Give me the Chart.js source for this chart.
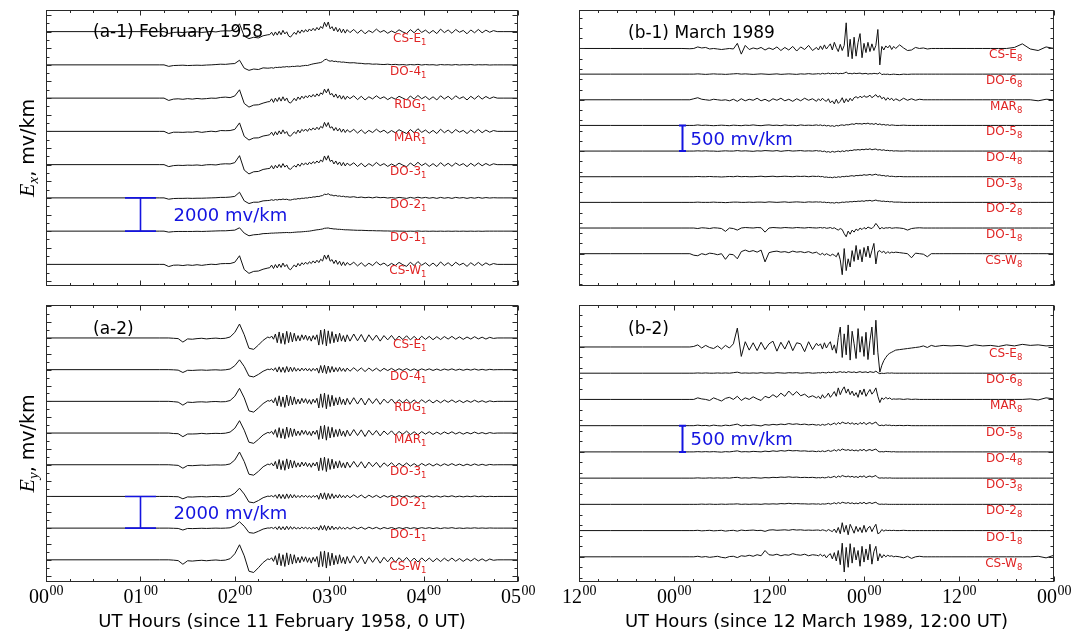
<!DOCTYPE html>
<html><head><meta charset="utf-8">
<script src="https://cdn.jsdelivr.net/npm/chart.js@4.4.1/dist/chart.umd.min.js"></script>
<style>
html,body{margin:0;padding:0;background:#fff;}
#wrap{position:relative;width:1088px;height:633px;overflow:hidden;background:#fff;}
canvas{position:absolute;left:0;top:0;}
</style></head><body>
<div id="wrap">
<canvas id="c1" width="1088" height="633"></canvas>
<canvas id="c2" width="1088" height="633"></canvas>
<canvas id="c3" width="1088" height="633"></canvas>
<canvas id="c4" width="1088" height="633"></canvas>
</div>
<script>
// ---------- time axes (hours) ----------
const timeA = [0,1.2,
1.25,1.3,1.35,1.4,1.45,1.5,1.55,1.6,1.65,1.7,1.75,1.8,1.85,1.9,1.95,2,2.05,2.1,2.15,2.2,2.25,2.3,2.35,
2.37,2.39,2.41,2.43,2.45,2.47,2.49,2.51,2.53,2.55,2.57,2.59,2.61,2.63,2.65,2.67,2.69,2.71,2.73,2.75,2.77,2.79,2.81,2.83,2.85,2.87,2.89,2.91,2.93,2.95,2.97,2.99,3.01,3.03,3.05,3.07,3.09,3.11,3.13,3.15,3.17,3.19,
3.22,3.26,3.3,3.34,3.38,3.42,3.46,3.5,3.54,3.58,3.62,3.66,3.7,3.74,3.78,3.82,3.86,3.9,3.94,3.98,4.02,4.06,4.1,4.14,4.18,4.22,4.26,4.3,4.34,4.38,4.42,4.46,4.5,4.54,4.58,4.62,4.66,4.7,4.74,4.78,
4.85,5];
const timeB = [0,4,8,12,13,14,
14.5,15,15.5,16,16.5,17,17.5,18,18.5,19,19.5,20,20.5,21,21.5,22,22.5,23,23.5,24,24.5,25,25.5,26,26.5,27,27.5,28,28.5,29,29.5,30,
30.25,30.5,30.75,31,31.25,31.5,31.75,32,32.25,32.5,32.75,33,33.25,33.5,33.75,34,34.25,34.5,34.75,35,35.25,35.5,35.75,36,36.25,36.5,36.75,37,37.25,37.5,37.75,38,38.25,38.5,38.75,39,39.25,39.5,39.75,40,
40.5,41,41.5,42,42.5,43,43.5,44,44.5,45,45.5,46,
47,48,49,50,51,52,53,54,55,56,57,58,59,60];

const stationsA = ['CS-E','DO-4','RDG','MAR','DO-3','DO-2','DO-1','CS-W'];
const stationsB = ['CS-E','DO-6','MAR','DO-5','DO-4','DO-3','DO-2','DO-1','CS-W'];
const offsetsA = [0,-2000,-4000,-6000,-8000,-10000,-12000,-14000];
const offsetsB = [0,-500,-1000,-1500,-2000,-2500,-3000,-3500,-4000];
const ticksA = ['00','01','02','03','04','05'];
const ticksB = ['12','00','12','00','12','00'];

// ---------- (a-1) Ex, February 1958, mV/km ----------
const ex1958_CSE = [0,0,
0,-110,-50,-30,-60,-20,-50,-10,-50,-20,10,-20,30,50,40,110,470,-280,-420,-340,-380,-250,-190,
-180,-40,-240,-20,-210,20,-190,80,-140,-10,-260,-330,-190,-40,-170,60,-100,100,-40,120,-20,160,40,200,60,250,100,310,190,560,300,580,170,300,40,260,-10,190,-70,150,-90,120,
-60,130,-100,100,-130,60,-60,150,-40,70,-100,40,-70,110,-20,-120,120,-70,170,-50,90,-100,70,-120,150,-60,100,-100,130,-40,70,-130,100,-70,130,-70,90,-40,60,0,
0,0];
const ex1958_DO4 = [0,0,
0,-90,-40,-30,-20,-40,-30,-20,-30,-10,0,20,40,30,60,80,280,-200,-330,-250,-280,-180,-200,
-190,-170,-200,-150,-160,-140,-150,-120,-130,-100,-120,-110,-90,-100,-80,-70,-90,-60,-50,-30,-40,0,30,60,80,100,120,140,200,300,340,260,220,250,200,220,180,190,160,170,150,140,
120,130,100,90,60,70,40,50,30,20,40,10,30,0,20,-10,20,0,30,-10,20,0,10,-20,20,0,10,-10,20,-10,10,0,20,-10,10,0,10,-10,0,0,
0,0];
const ex1958_RDG = [0,0,
0,-140,-60,-40,-70,-30,-60,-20,-50,-30,0,-10,40,60,30,130,500,-320,-540,-420,-400,-300,-220,
-210,-40,-260,0,-200,40,-180,80,-160,10,-240,-300,-170,-10,-160,70,-80,120,-20,140,20,180,60,220,80,260,120,320,220,540,320,560,200,280,60,250,0,180,-60,140,-80,110,
-30,140,-90,110,-110,80,-50,140,-30,80,-90,50,-60,110,0,-110,130,-60,160,-40,100,-90,80,-110,140,-50,110,-90,140,-30,80,-110,110,-60,140,-60,100,-30,70,0,
0,0];
const ex1958_MAR = [0,0,
0,-130,-50,-50,-60,-40,-50,-10,-60,-20,10,-20,50,40,50,120,510,-300,-520,-400,-390,-280,-230,
-200,-50,-250,-20,-210,30,-160,90,-130,-10,-250,-290,-160,-30,-140,80,-90,120,10,140,0,170,70,210,90,250,110,300,200,540,290,530,200,280,50,230,20,180,-50,140,-70,100,
-50,120,-100,90,-130,60,-70,130,-50,70,-110,50,-80,100,-20,-130,110,-80,160,-60,80,-110,60,-130,130,-80,80,-110,110,-50,60,-130,80,-80,110,-80,80,-50,50,0,
0,0];
const ex1958_DO3 = [0,0,
0,-120,-60,-40,-50,-30,-40,-20,-50,-10,0,-20,30,50,40,120,540,-330,-560,-430,-410,-290,-240,
-230,-60,-260,-40,-200,10,-180,60,-150,-30,-240,-280,-170,-50,-150,40,-100,90,-20,110,-20,140,40,180,70,220,100,280,170,520,270,540,190,270,40,220,0,160,-70,130,-80,90,
-50,110,-110,80,-130,60,-80,130,-60,60,-110,40,-80,90,-30,-130,100,-80,140,-60,80,-110,60,-120,120,-80,80,-100,100,-50,60,-120,80,-80,100,-70,70,-50,50,0,
0,0];
const ex1958_DO2 = [0,0,
0,-80,-40,-30,-30,-20,-30,-20,-20,-10,0,10,30,30,50,90,340,-180,-340,-260,-260,-180,-160,
-150,-110,-150,-100,-130,-90,-110,-70,-100,-80,-120,-130,-100,-70,-80,-40,-60,-20,-30,0,-10,30,20,60,50,90,80,120,140,220,200,250,170,170,120,150,100,120,80,100,60,70,
40,70,20,50,10,40,0,50,10,30,-10,20,-20,30,0,-30,30,-20,40,-10,30,-20,20,-30,30,-20,20,-30,30,-10,20,-30,20,-20,30,-20,20,-10,10,0,
0,0];
const ex1958_DO1 = [0,0,
0,-60,-30,-20,-20,-20,-20,-10,-20,-10,0,10,20,20,40,60,200,-120,-280,-220,-200,-150,-140,
-130,-120,-120,-110,-110,-100,-100,-90,-90,-80,-90,-90,-80,-70,-60,-50,-50,-40,-30,-20,-10,0,20,40,60,80,90,110,130,170,180,190,160,150,130,130,110,110,100,90,80,80,
70,60,50,50,40,30,30,20,20,10,10,0,10,0,0,-10,0,-10,10,-10,0,-10,0,-10,0,-10,0,-10,0,-10,0,-10,0,-10,0,-10,0,0,0,0,
0,0];
const ex1958_CSW = [0,0,
0,-130,-50,-40,-70,-30,-60,-20,-60,-20,10,-10,40,50,50,130,520,-310,-540,-420,-400,-290,-220,
-200,-40,-250,-10,-210,20,-180,80,-140,-10,-250,-320,-180,-30,-160,60,-90,100,-10,130,10,160,50,210,80,250,110,310,200,560,310,570,190,290,50,260,0,190,-70,150,-70,110,
-40,130,-90,100,-120,70,-70,150,-40,80,-100,60,-70,120,-20,-120,130,-70,170,-50,100,-100,80,-120,150,-70,100,-100,130,-40,70,-120,100,-70,120,-70,90,-40,50,0,
0,0];

// ---------- (a-2) Ey, February 1958, mV/km ----------
const ey1958_CSE = [0,0,
0,0,-20,-40,-260,-60,-80,-40,-20,-60,-30,-10,-40,-20,60,350,880,200,-650,-720,-450,-150,60,
0,120,-80,250,-300,380,-350,300,-400,420,-300,350,-250,300,-200,150,-180,200,-100,180,-150,120,-200,150,-100,200,-450,500,-400,550,-500,450,-350,400,-300,250,-250,300,-200,150,-250,200,
-200,250,-180,220,-250,200,-150,180,-200,150,-120,160,-150,120,-100,140,-120,100,-130,110,-90,100,-110,80,-100,90,-70,100,-80,70,-90,60,-70,80,-60,50,-70,40,-30,0,
0,0];
const ey1958_DO4 = [0,0,
0,0,-10,-30,-180,-40,-50,-30,-20,-40,-20,-10,-30,-10,40,250,620,200,-400,-460,-300,-100,30,
0,60,-50,120,-150,180,-160,150,-180,200,-150,160,-120,140,-100,80,-90,100,-60,90,-80,70,-100,80,-60,100,-220,260,-200,280,-250,230,-180,200,-150,130,-120,150,-100,80,-120,100,
-100,120,-90,110,-120,100,-80,90,-100,80,-60,80,-70,60,-50,70,-60,50,-60,50,-40,50,-50,40,-50,40,-30,50,-40,30,-40,30,-30,40,-30,20,-30,20,-10,0,
0,0];
const ey1958_RDG = [0,0,
0,0,-20,-50,-240,-50,-70,-40,-30,-50,-20,-10,-30,-20,50,320,820,220,-600,-680,-420,-140,50,
10,100,-100,230,-280,350,-330,280,-380,400,-280,330,-230,280,-180,140,-160,190,-90,170,-140,110,-180,140,-90,190,-420,470,-380,520,-470,420,-330,380,-280,230,-230,280,-190,140,-230,190,
-190,230,-170,210,-230,190,-140,170,-190,140,-110,150,-140,110,-90,130,-110,90,-120,100,-80,90,-100,70,-90,80,-60,90,-70,60,-80,50,-60,70,-50,40,-60,30,-20,0,
0,0];
const ey1958_MAR = [0,0,
0,0,-30,-40,-230,-60,-60,-50,-20,-50,-30,-20,-30,-10,60,300,780,180,-580,-650,-400,-120,40,
0,110,-90,220,-270,340,-320,270,-360,380,-270,310,-220,260,-170,130,-150,180,-80,160,-130,100,-170,130,-80,180,-400,450,-360,490,-450,400,-310,360,-260,220,-220,260,-180,130,-220,180,
-180,220,-160,200,-220,180,-130,160,-180,130,-100,140,-130,100,-80,120,-100,80,-110,90,-70,80,-90,60,-80,70,-50,80,-60,50,-70,40,-50,60,-40,30,-50,30,-20,0,
0,0];
const ey1958_DO3 = [0,0,
0,0,-20,-40,-220,-50,-60,-40,-20,-40,-20,-10,-20,-10,50,300,800,200,-600,-660,-420,-130,40,
0,100,-80,210,-260,330,-310,260,-350,370,-260,300,-210,250,-160,120,-140,170,-80,150,-120,100,-160,120,-80,170,-380,430,-350,480,-430,390,-300,350,-250,210,-210,250,-170,120,-210,170,
-170,210,-150,190,-210,170,-120,150,-170,120,-90,130,-120,90,-80,110,-90,70,-100,80,-60,70,-80,60,-70,60,-50,70,-50,40,-60,40,-50,50,-40,30,-40,20,-10,0,
0,0];
const ey1958_DO2 = [0,0,
0,0,-10,-20,-150,-30,-40,-20,-10,-30,-10,0,-20,0,30,200,520,150,-350,-400,-260,-80,20,
0,50,-40,100,-120,150,-130,120,-150,160,-120,130,-100,110,-80,60,-70,80,-50,70,-60,50,-80,60,-50,80,-180,210,-160,230,-200,190,-150,170,-120,100,-100,120,-80,60,-90,80,
-80,100,-70,90,-100,80,-60,70,-80,60,-50,60,-50,50,-40,50,-40,40,-50,40,-30,40,-40,30,-40,30,-20,40,-30,20,-30,20,-20,30,-20,20,-20,10,-10,0,
0,0];
const ey1958_DO1 = [0,0,
0,0,-10,-20,-120,-20,-30,-20,-10,-20,-10,0,-10,0,20,150,400,120,-280,-320,-200,-60,10,
0,40,-30,70,-90,110,-100,90,-110,120,-90,100,-70,80,-60,40,-50,60,-30,50,-40,40,-60,40,-30,60,-130,160,-120,170,-150,140,-110,130,-90,70,-80,90,-60,40,-70,60,
-60,70,-50,60,-70,60,-40,50,-60,40,-30,40,-40,30,-30,40,-30,30,-30,30,-20,30,-30,20,-30,20,-10,30,-20,10,-20,10,-10,20,-10,10,-10,10,0,0,
0,0];
const ey1958_CSW = [0,0,
0,0,-20,-50,-280,-60,-80,-50,-30,-60,-30,-10,-40,-20,70,380,950,250,-720,-800,-500,-170,60,
10,130,-100,260,-320,400,-370,320,-420,440,-320,370,-270,320,-210,160,-190,210,-110,190,-160,130,-210,160,-110,210,-460,520,-420,560,-520,470,-370,420,-320,270,-270,320,-210,160,-260,210,
-210,260,-190,230,-260,210,-160,190,-210,160,-130,170,-160,130,-110,150,-130,110,-140,120,-100,110,-120,90,-110,100,-80,110,-90,80,-100,70,-80,90,-70,60,-80,50,-30,0,
0,0];

// ---------- (b-1) Ex, March 1989, mV/km ----------
const ex1989_CSE = [0,0,0,0,0,-5,
0,30,10,20,-10,0,-10,-20,-10,0,-10,100,-110,60,-20,10,-10,20,-30,10,-20,30,-40,20,-30,40,-50,30,-20,60,-40,20,
-30,50,-20,70,-10,40,90,-30,120,20,-60,80,-40,60,500,-160,180,-200,220,-150,120,290,-180,100,-80,120,-60,90,-40,60,370,-320,40,-30,50,10,60,-20,40,0,
70,10,-40,-30,20,0,10,-10,0,0,0,0,
0,0,0,0,0,0,0,0,20,90,-10,-40,30,0];
const ex1989_DO6 = [0,0,0,0,0,0,
0,5,0,-5,0,5,0,0,-5,0,5,10,0,5,0,-5,0,5,0,-5,0,5,-5,0,5,0,-5,5,0,10,0,5,
10,0,15,5,10,20,5,15,10,20,5,15,10,20,40,10,15,5,20,10,15,20,5,10,15,0,10,5,15,10,5,30,-10,0,-5,0,-10,-5,0,-5,
-10,0,-5,0,0,0,0,0,0,0,0,0,
0,0,0,0,0,0,0,0,0,0,0,0,0,0];
const ex1989_MAR = [0,0,0,0,0,0,
20,40,10,0,-10,10,0,-10,0,-20,10,-30,20,-20,10,-10,30,-20,10,-30,20,-10,30,-20,10,-30,20,-20,30,-10,20,-30,
20,-20,30,-10,-30,20,-60,-20,-80,10,-70,-30,40,-60,20,-40,30,-20,40,60,30,70,40,80,50,60,90,40,70,100,50,80,20,50,-10,40,0,30,-20,20,
-20,30,-10,20,-10,10,0,0,0,0,0,0,
0,0,0,0,0,0,0,0,0,0,0,-20,10,0];
const ex1989_DO5 = [0,0,0,0,0,0,
0,10,0,5,0,-5,0,5,0,-5,5,0,-5,5,0,10,0,-5,5,10,0,5,-5,10,0,5,-5,10,0,5,0,10,
0,10,-5,5,-10,0,-15,-5,-20,0,-10,5,10,0,15,10,20,30,20,40,30,35,25,40,30,45,25,35,20,40,15,30,10,20,5,15,0,10,5,0,
0,5,0,0,0,0,0,0,0,0,0,0,
0,0,0,0,0,0,0,0,0,0,0,0,0,0];
const ex1989_DO4 = [0,0,0,0,0,0,
0,5,0,5,0,0,-5,0,5,0,0,10,0,5,0,-5,5,0,10,5,0,10,-5,5,10,0,5,10,0,5,0,10,
0,5,-10,0,-20,-10,-25,-5,-20,-10,0,-15,5,-10,10,0,15,10,25,20,30,20,35,25,40,30,45,25,35,40,20,30,15,25,10,15,5,10,0,5,
0,0,5,0,0,0,0,0,0,0,0,0,
0,0,0,0,0,0,0,0,0,0,0,0,0,0];
const ex1989_DO3 = [0,0,0,0,0,0,
0,5,0,0,5,0,0,-5,0,5,0,10,0,5,0,0,5,10,0,5,10,0,5,10,5,0,10,5,10,0,10,5,
10,0,5,-10,-5,-15,-10,-20,-5,-15,0,-10,5,0,10,5,15,20,10,25,20,30,25,40,30,35,45,30,40,50,30,35,20,25,10,20,5,10,5,0,
5,0,0,0,0,0,0,0,0,0,0,0,
0,0,0,0,0,0,0,0,0,0,0,0,0,0];
const ex1989_DO2 = [0,0,0,0,0,0,
0,5,0,0,0,5,0,0,-5,0,5,5,0,0,5,0,5,5,0,10,5,0,5,10,0,5,10,5,0,10,5,10,
5,10,0,5,-5,0,-10,-5,-15,0,-10,-5,5,0,10,5,15,10,20,15,25,20,30,20,35,30,40,25,35,45,30,30,20,25,15,20,10,15,5,5,
5,0,0,0,0,0,0,0,0,0,0,0,
0,0,0,0,0,0,0,0,0,0,0,0,0,0];
const ex1989_DO1 = [0,0,0,0,0,0,
0,-10,5,0,-10,5,0,-10,-65,0,-10,-40,0,10,5,0,10,5,-80,0,10,5,0,10,5,0,10,5,0,10,5,0,
5,10,0,10,-5,0,10,-10,5,-20,-40,-10,-30,-110,-170,-60,-120,-40,-80,-20,-50,0,-30,10,-20,20,0,-10,30,90,40,-20,10,-10,5,0,10,-5,0,5,
0,-10,-40,-10,0,5,0,0,0,0,0,0,
0,0,0,0,0,0,0,0,0,0,0,0,0,0];
const ex1989_CSW = [0,0,0,0,0,0,
-30,-40,0,-20,10,0,-20,0,-110,-10,-20,-100,40,70,40,60,30,70,-160,20,40,50,30,40,20,50,30,40,20,40,10,30,
0,-20,10,-30,0,-20,-40,-10,-30,-60,20,-120,-410,100,-330,-100,-260,60,-150,160,-120,80,-160,120,-60,150,-80,60,200,-200,40,60,20,50,0,40,10,30,20,30,
20,10,0,-80,10,0,-10,-60,0,0,0,0,
0,0,0,0,0,0,0,0,0,0,0,0,0,0];

// ---------- (b-2) Ey, March 1989, mV/km ----------
const ey1989_CSE = [0,0,0,0,0,0,
10,40,-20,30,-10,-30,20,-40,30,-20,60,360,-180,100,-60,80,-70,90,-50,60,110,-80,90,-40,120,-70,80,60,-90,100,-50,70,
20,60,-40,80,-20,50,100,-60,40,-120,180,380,-200,250,-150,420,-250,300,60,-220,350,-100,200,-180,280,-240,120,380,-150,510,-100,-480,-350,-260,-200,-150,-120,-100,-80,-60,
-50,-40,-30,-20,-10,0,20,-10,30,10,20,30,
20,30,10,40,20,30,10,40,20,50,30,40,20,30];
const ey1989_DO6 = [0,0,0,0,0,0,
0,5,0,5,0,0,5,0,5,0,10,20,0,5,0,5,0,10,0,5,0,10,5,0,10,5,10,0,5,10,0,5,
10,5,15,10,5,20,10,15,25,10,20,30,15,25,10,30,20,15,25,10,20,30,15,20,25,10,30,20,15,40,10,-10,0,-5,0,5,0,5,0,0,
0,0,0,0,0,0,0,0,0,0,0,0,
0,0,0,0,0,0,0,0,0,0,0,0,0,0];
const ey1989_MAR = [0,0,0,0,0,0,
0,30,10,0,-20,30,0,-30,20,40,0,60,-20,30,0,50,10,-20,60,30,90,40,120,60,160,80,150,70,100,40,70,30,
60,10,90,30,60,120,40,90,150,60,220,90,180,240,120,200,90,160,70,130,40,180,90,200,60,130,190,100,150,220,60,-60,30,0,40,10,30,0,10,5,
10,0,10,0,5,0,0,0,0,0,0,0,
0,0,0,0,0,0,0,0,0,0,10,-10,30,10];
const ey1989_DO5 = [0,0,0,0,0,0,
0,10,0,5,-5,10,0,-5,10,0,15,30,-5,10,0,15,5,-5,20,10,25,15,30,20,40,25,35,20,30,15,25,10,
20,5,25,10,20,40,15,30,50,20,60,30,70,50,40,60,30,55,25,45,20,60,30,65,20,45,60,30,50,70,20,0,10,0,15,5,10,0,5,0,
5,0,5,0,0,0,0,0,0,0,0,0,
0,0,0,0,0,0,0,0,0,0,0,0,0,0];
const ey1989_DO4 = [0,0,0,0,0,0,
0,5,0,5,0,5,0,-5,5,0,10,20,0,5,0,10,5,0,15,5,20,10,25,15,30,20,25,15,20,10,15,5,
15,5,20,5,15,30,10,20,40,15,45,25,55,40,30,45,25,40,20,35,15,45,25,50,15,35,45,25,40,55,15,0,5,0,10,5,5,0,5,0,
0,0,0,0,0,0,0,0,0,0,0,0,
0,0,0,0,0,0,0,0,0,0,0,0,0,0];
const ey1989_DO3 = [0,0,0,0,0,0,
0,5,0,0,5,0,5,0,5,0,10,15,0,5,0,10,5,0,10,5,15,10,20,15,25,15,20,10,15,10,15,5,
10,5,15,5,10,25,10,20,35,10,40,20,50,35,25,40,20,35,15,30,10,40,20,45,10,30,40,20,35,50,10,0,5,0,5,0,5,0,0,0,
0,0,0,0,0,0,0,0,0,0,0,0,
0,0,0,0,0,0,0,0,0,0,0,0,0,0];
const ey1989_DO2 = [0,0,0,0,0,0,
0,0,5,0,5,0,0,5,0,5,5,10,0,5,0,5,5,0,10,5,10,5,15,10,20,10,15,10,10,5,10,5,
10,0,10,5,10,20,5,15,30,10,35,15,40,30,20,35,15,30,10,25,10,35,15,40,10,25,35,15,30,40,10,0,5,0,5,0,0,0,0,0,
0,0,0,0,0,0,0,0,0,0,0,0,
0,0,0,0,0,0,0,0,0,0,0,0,0,0];
const ey1989_DO1 = [0,0,0,0,0,0,
0,5,-5,0,5,-5,0,5,-10,0,5,-10,10,0,5,10,0,5,-15,10,15,5,10,15,5,20,10,15,5,10,5,10,
10,0,15,5,-10,20,0,-20,30,-40,60,-60,150,-30,100,-80,120,40,-50,80,-20,60,-40,100,-30,50,80,-20,60,120,-60,-40,20,-10,10,0,5,0,5,0,
0,5,0,0,0,0,0,0,0,0,0,0,
0,0,0,0,0,0,0,0,0,0,0,0,0,0];
const ey1989_CSW = [0,0,0,0,0,0,
0,10,-5,5,-10,0,10,-10,-20,5,10,-15,20,10,30,10,40,20,120,40,30,50,20,40,30,60,40,30,50,20,40,30,
20,50,10,40,-20,30,60,-40,80,-80,120,-150,260,-290,180,-200,250,-120,180,-60,120,-180,200,-100,150,-60,240,-140,100,200,-80,60,-20,40,0,30,10,20,0,10,
0,-20,10,-30,0,10,0,0,0,0,0,0,
0,0,0,0,0,0,0,0,0,0,0,10,-20,30];

// ---------- panel definitions ----------
const RED = '#e02424', BLUE = '#1414e0', INK = '#111';
const panels = [
 {id:'c1', time:timeA, traces:[ex1958_CSE,ex1958_DO4,ex1958_RDG,ex1958_MAR,ex1958_DO3,ex1958_DO2,ex1958_DO1,ex1958_CSW],
  offsets:offsetsA, names:stationsA, sub:'1', area:{l:46,t:10,r:518,b:286}, x:[0,5], y:[-15300,1300],
  xMinor:0.25, xMajorEvery:4, yMinor:500, yMajor:1000, labelX:4.03,
  title:'(a-1) February 1958', titleDx:47, titleDy:27,
  bar:{x:1.0, from:offsetsA[5], to:offsetsA[6], text:'2000 mv/km', cap:15.5, dx:33, lw:1.6},
  ylab:'x', xlab:null},
 {id:'c2', time:timeB, traces:[ex1989_CSE,ex1989_DO6,ex1989_MAR,ex1989_DO5,ex1989_DO4,ex1989_DO3,ex1989_DO2,ex1989_DO1,ex1989_CSW],
  offsets:offsetsB, names:stationsB, sub:'8', area:{l:579,t:10,r:1054,b:286}, x:[0,60], y:[-4630,750],
  xMinor:2.4, xMajorEvery:5, yMinor:200, yMajor:1000, labelX:56,
  title:'(b-1) March 1989', titleDx:49, titleDy:28,
  bar:{x:13, from:offsetsB[3], to:offsetsB[4], text:'500 mv/km', cap:3.5, dx:8, lw:2},
  ylab:null, xlab:null},
 {id:'c3', time:timeA, traces:[ey1958_CSE,ey1958_DO4,ey1958_RDG,ey1958_MAR,ey1958_DO3,ey1958_DO2,ey1958_DO1,ey1958_CSW],
  offsets:offsetsA, names:stationsA, sub:'1', area:{l:46,t:305,r:518,b:582}, x:[0,5], y:[-15400,2080],
  xMinor:0.25, xMajorEvery:4, yMinor:500, yMajor:1000, labelX:4.03,
  title:'(a-2)', titleDx:47, titleDy:29,
  bar:{x:1.0, from:offsetsA[5], to:offsetsA[6], text:'2000 mv/km', cap:15.5, dx:33, lw:1.6},
  ylab:'y', xlab:'UT Hours (since 11 February 1958, 0 UT)', ticks:ticksA},
 {id:'c4', time:timeB, traces:[ey1989_CSE,ey1989_DO6,ey1989_MAR,ey1989_DO5,ey1989_DO4,ey1989_DO3,ey1989_DO2,ey1989_DO1,ey1989_CSW],
  offsets:offsetsB, names:stationsB, sub:'8', area:{l:579,t:305,r:1054,b:582}, x:[0,60], y:[-4480,800],
  xMinor:2.4, xMajorEvery:5, yMinor:200, yMajor:1000, labelX:56,
  title:'(b-2)', titleDx:49, titleDy:29,
  bar:{x:13, from:offsetsB[3], to:offsetsB[4], text:'500 mv/km', cap:3.5, dx:8, lw:2},
  ylab:null, xlab:'UT Hours (since 12 March 1989, 12:00 UT)', ticks:ticksB}
];

function subText(ctx, main, sub, x, y, align, f1, f2, dy){
  ctx.font=f1; const w1=ctx.measureText(main).width;
  ctx.font=f2; const w2=ctx.measureText(sub).width;
  const x0 = align==='right' ? x-w1-w2 : (align==='center' ? x-(w1+w2)/2 : x);
  ctx.textAlign='left'; ctx.textBaseline='alphabetic';
  ctx.font=f1; ctx.fillText(main,x0,y);
  ctx.font=f2; ctx.fillText(sub,x0+w1,y+dy);
}

function makePlugin(P){
  return {
    id:'panel_'+P.id,
    afterDatasetsDraw(chart){
      const ctx=chart.ctx, ca=chart.chartArea, xs=chart.scales.x, ys=chart.scales.y;
      ctx.save();
      const L=Math.round(ca.left)+0.5, R=Math.round(ca.right)-0.5, T=Math.round(ca.top)+0.5, B=Math.round(ca.bottom)-0.5;
      ctx.strokeStyle='#2a2a2a'; ctx.lineWidth=1;
      ctx.beginPath();
      const nx=Math.round((P.x[1]-P.x[0])/P.xMinor);
      for(let i=0;i<=nx;i++){
        const v=P.x[0]+i*P.xMinor;
        const px=Math.round(xs.getPixelForValue(v))+0.5;
        const len=(i%P.xMajorEvery===0)?5:2.5;
        ctx.moveTo(px,B); ctx.lineTo(px,B-len);
        ctx.moveTo(px,T); ctx.lineTo(px,T+len);
      }
      const k0=Math.ceil(P.y[0]/P.yMinor), k1=Math.floor(P.y[1]/P.yMinor);
      for(let k=k0;k<=k1;k++){
        const v=k*P.yMinor;
        const py=Math.round(ys.getPixelForValue(v))+0.5;
        const len=(Math.abs(v%P.yMajor)<1e-6)?5:3;
        ctx.moveTo(L,py); ctx.lineTo(L+len,py);
        ctx.moveTo(R,py); ctx.lineTo(R-len,py);
      }
      ctx.stroke();
      ctx.strokeRect(L,T,R-L,B-T);

      ctx.fillStyle=RED;
      const lx=xs.getPixelForValue(P.labelX);
      P.names.forEach((n,k)=>{
        const py=ys.getPixelForValue(P.offsets[k]);
        subText(ctx,n,P.sub,lx,py+10,'right','12px "DejaVu Sans"','8.5px "DejaVu Sans"',3);
      });

      ctx.fillStyle='#000'; ctx.font='17px "DejaVu Sans"'; ctx.textAlign='left'; ctx.textBaseline='alphabetic';
      ctx.fillText(P.title, ca.left+P.titleDx, ca.top+P.titleDy);

      const bx=Math.round(xs.getPixelForValue(P.bar.x))+0.5;
      const y1=ys.getPixelForValue(P.bar.from), y2=ys.getPixelForValue(P.bar.to);
      ctx.strokeStyle=BLUE; ctx.lineWidth=P.bar.lw;
      ctx.beginPath();
      ctx.moveTo(bx,y1); ctx.lineTo(bx,y2);
      ctx.moveTo(bx-P.bar.cap,y1); ctx.lineTo(bx+P.bar.cap,y1);
      ctx.moveTo(bx-P.bar.cap,y2); ctx.lineTo(bx+P.bar.cap,y2);
      ctx.stroke();
      ctx.fillStyle=BLUE; ctx.font='18px "DejaVu Sans"';
      ctx.fillText(P.bar.text, bx+P.bar.dx, (y1+y2)/2+6.5);

      if(P.ticks){
        ctx.fillStyle='#000';
        P.ticks.forEach((t,i)=>{
          const v=P.x[0]+i*P.xMinor*P.xMajorEvery;
          const px=xs.getPixelForValue(v);
          ctx.font='20px "Liberation Serif"'; const w1=ctx.measureText(t).width;
          ctx.font='14px "Liberation Serif"'; const w2=ctx.measureText('00').width;
          const x0=px-(w1+w2)/2;
          ctx.font='20px "Liberation Serif"'; ctx.fillText(t,x0,ca.bottom+21);
          ctx.font='14px "Liberation Serif"'; ctx.fillText('00',x0+w1+0.5,ca.bottom+13);
        });
      }
      if(P.xlab){
        ctx.fillStyle='#000'; ctx.font='18px "DejaVu Sans"'; ctx.textAlign='center';
        ctx.fillText(P.xlab,(ca.left+ca.right)/2,ca.bottom+45);
        ctx.textAlign='left';
      }
      if(P.ylab){
        ctx.save();
        ctx.translate(34,(ca.top+ca.bottom)/2);
        ctx.rotate(-Math.PI/2);
        ctx.fillStyle='#000';
        const fE='italic 22px "Liberation Serif"', fS='italic 15px "Liberation Serif"', fR='19px "DejaVu Sans"';
        ctx.font=fE; const wE=ctx.measureText('E').width;
        ctx.font=fS; const wS=ctx.measureText(P.ylab).width;
        ctx.font=fR; const wR=ctx.measureText(', mv/km').width;
        let x0=-(wE+wS+wR)/2;
        ctx.font=fE; ctx.fillText('E',x0,0);
        ctx.font=fS; ctx.fillText(P.ylab,x0+wE,4);
        ctx.font=fR; ctx.fillText(', mv/km',x0+wE+wS,0);
        ctx.restore();
      }
      ctx.restore();
    }
  };
}

panels.forEach(P=>{
  const datasets=P.traces.map((vals,k)=>{
    const n=Math.min(vals.length,P.time.length);
    const pts=[];
    for(let i=0;i<n;i++) pts.push({x:P.time[i], y:vals[i]+P.offsets[k]});
    return {data:pts, borderColor:INK, borderWidth:1, pointRadius:0, tension:0, fill:false, label:P.names[k]};
  });
  new Chart(document.getElementById(P.id),{
    type:'line',
    data:{datasets},
    options:{
      responsive:false, animation:false, devicePixelRatio:1, events:[],
      layout:{padding:{left:P.area.l, top:P.area.t, right:1088-P.area.r, bottom:633-P.area.b}},
      plugins:{legend:{display:false}, tooltip:{enabled:false}},
      scales:{
        x:{type:'linear', min:P.x[0], max:P.x[1], display:false},
        y:{type:'linear', min:P.y[0], max:P.y[1], display:false}
      }
    },
    plugins:[makePlugin(P)]
  });
});
</script>
</body></html>
